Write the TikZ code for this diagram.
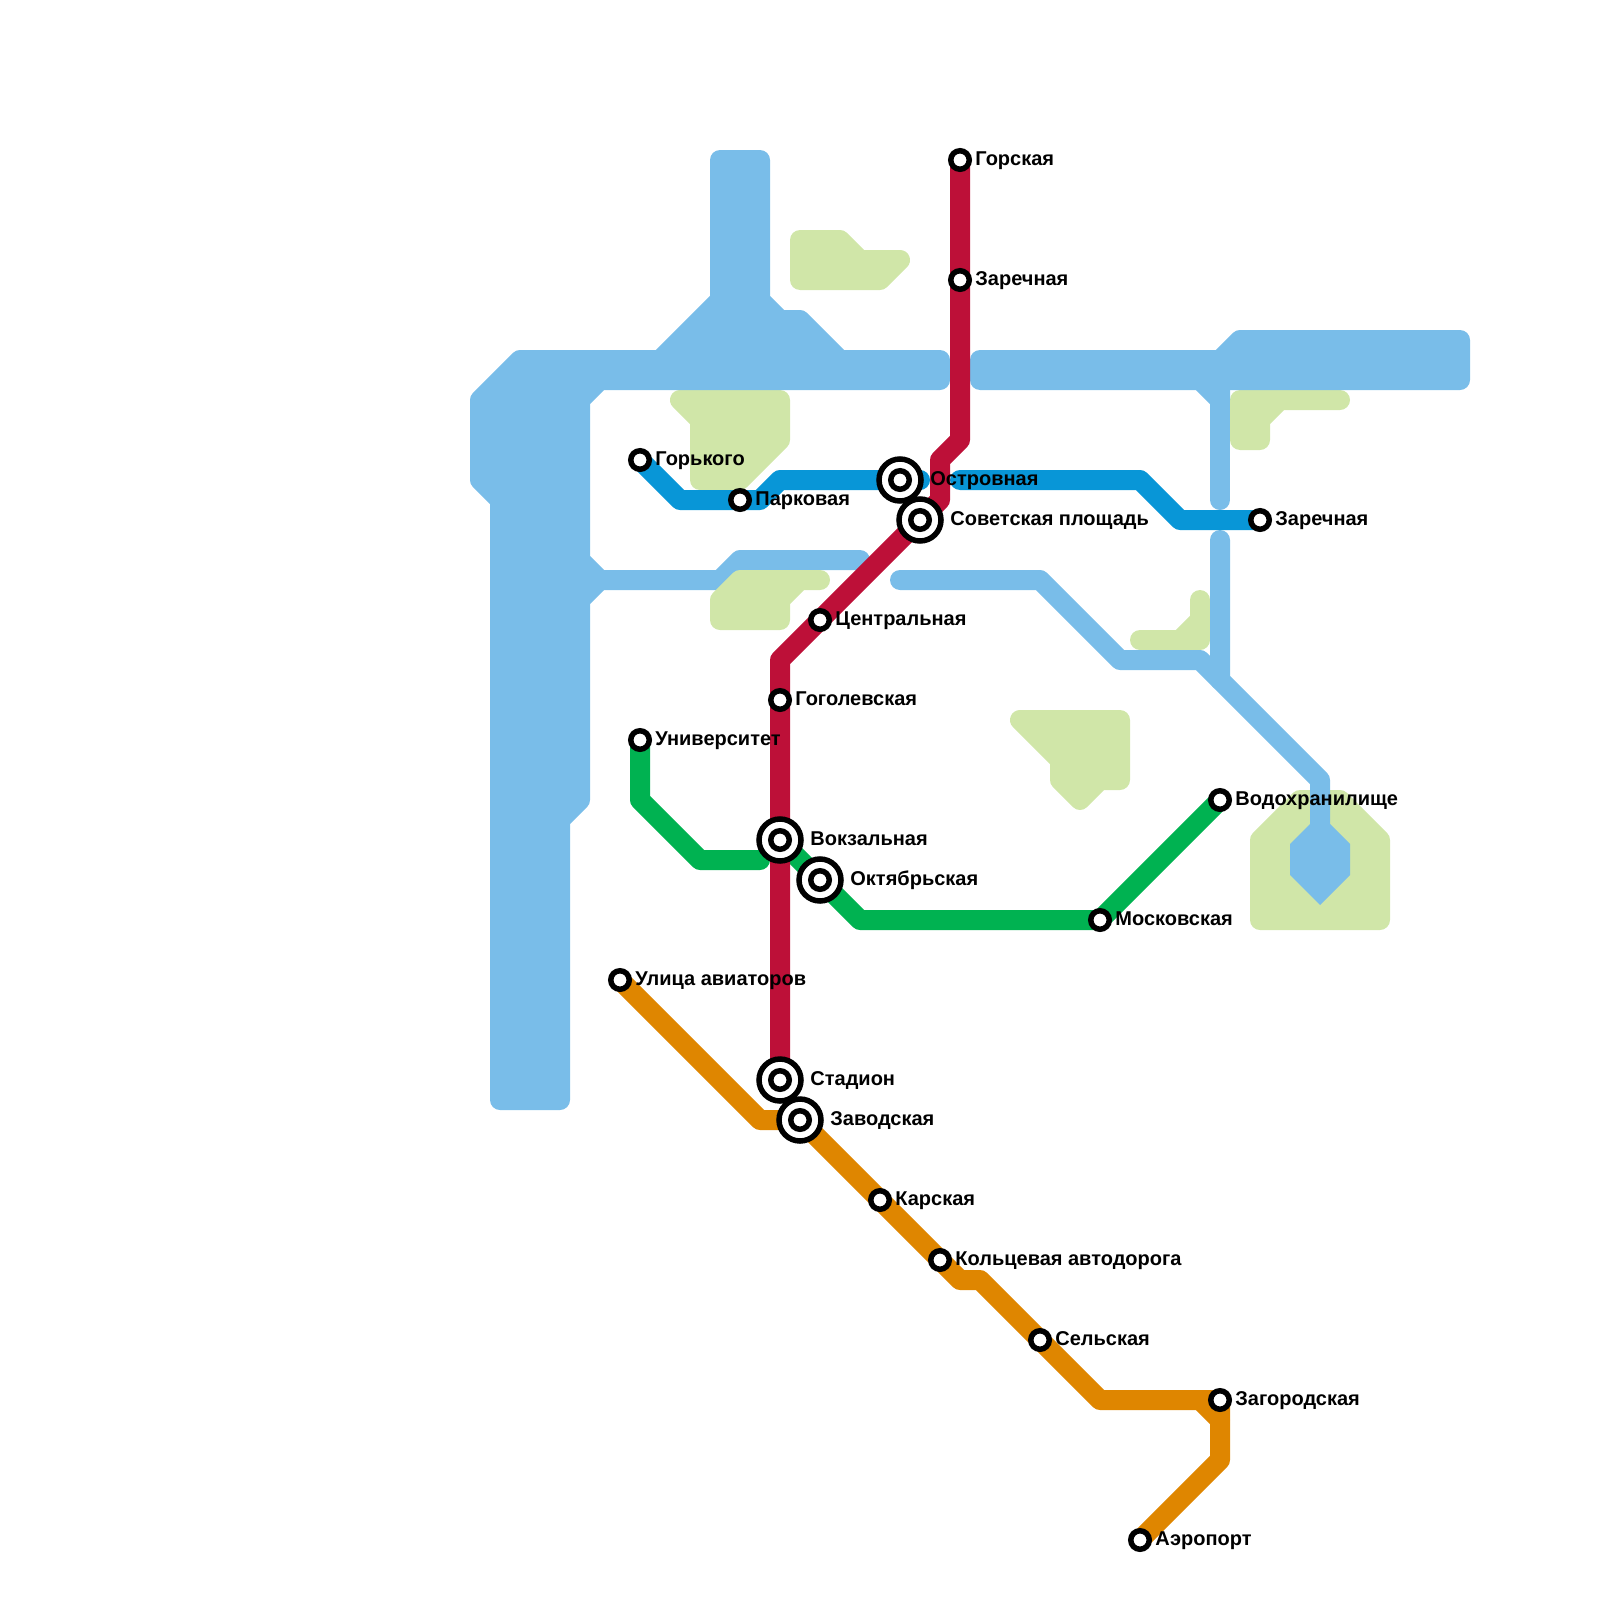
\documentclass[tikz,border=0pt]{standalone}
\usepackage{fontspec}
\setmainfont{Liberation Sans}
\definecolor{water}{HTML}{79BDE9}
\definecolor{park}{HTML}{D0E6A8}
\definecolor{lblue}{HTML}{0896D7}
\definecolor{lred}{HTML}{BD1038}
\definecolor{lgreen}{HTML}{00B251}
\definecolor{lorange}{HTML}{DF8600}
\pgfdeclarelayer{bg}
\pgfsetlayers{bg,main}
\tikzset{
  x=0.5pt,y=-0.5pt,
  waterarea/.style={fill=water,draw=water,line width=10pt,line join=round},
  parkarea/.style={fill=park,draw=park,line width=10pt,line join=round},
  waterline/.style={draw=water,line width=10pt,line join=round,line cap=round},
  metro/.style={line width=10pt,line join=round,line cap=round},
  stn/.style={circle,draw=black,fill=white,line width=2.75pt,minimum size=9.25pt,inner sep=0pt},
  icouter/.style={circle,draw=black,fill=white,line width=2.75pt,minimum size=21pt,inner sep=0pt},
  lab/.style={anchor=base west,inner sep=0pt,font=\fontsize{10pt}{12pt}\selectfont\bfseries,text=black},
}
\newcommand{\stnat}[4]{\node[stn] (#1) at (#2,#3) {};\node[lab] (#1-t) at (#2+15,#3+5) {#4};}
\newcommand{\icat}[4]{\node[icouter] (#1) at (#2,#3) {};\node[stn] (#1-i) at (#2,#3) {};\node[lab] (#1-t) at (#2+30,#3+5) {#4};}
\begin{document}
\begin{tikzpicture}
\useasboundingbox (0,0) rectangle (1600,1600);
% stations
\stnat{gorskaya}{960}{160}{Горская}
\stnat{zarechnaya}{960}{280}{Заречная}
\stnat{gorkogo}{640}{460}{Горького}
\stnat{parkovaya}{740}{500}{Парковая}
\node[icouter] (ostrovnaya) at (900,480) {};
\node[stn] (ostrovnaya-i) at (900,480) {};
\node[lab] (ostrovnaya-t) at (930,485) {Островная};
\icat{sovetskaya}{920}{520}{Советская площадь}
\stnat{zarechnaya2}{1260}{520}{Заречная}
\stnat{centralnaya}{820}{620}{Центральная}
\stnat{gogolevskaya}{780}{700}{Гоголевская}
\stnat{universitet}{640}{740}{Университет}
\icat{vokzalnaya}{780}{840}{Вокзальная}
\icat{oktyabrskaya}{820}{880}{Октябрьская}
\stnat{moskovskaya}{1100}{920}{Московская}
\stnat{vodohran}{1220}{800}{Водохранилище}
\stnat{aviatorov}{620}{980}{Улица авиаторов}
\icat{stadion}{780}{1080}{Стадион}
\icat{zavodskaya}{800}{1120}{Заводская}
\stnat{karskaya}{880}{1200}{Карская}
\stnat{koltsevaya}{940}{1260}{Кольцевая автодорога}
\stnat{selskaya}{1040}{1340}{Сельская}
\stnat{zagorodskaya}{1220}{1400}{Загородская}
\stnat{aeroport}{1140}{1540}{Аэропорт}
\begin{pgfonlayer}{bg}
% parks under water
\draw[parkarea] (800,240)--(840,240)--(860,260)--(900,260)--(880,280)--(800,280)--cycle;
\draw[parkarea] (680,400)--(780,400)--(780,440)--(740,480)--(700,480)--(700,420)--cycle;
\draw[parkarea] (1240,400)--(1340,400)--(1280,400)--(1260,420)--(1260,440)--(1240,440)--cycle;
\draw[parkarea] (1140,640)--(1180,640)--(1200,620)--(1200,600)--(1200,640)--cycle;
\draw[parkarea] (1020,720)--(1120,720)--(1120,780)--(1100,780)--(1080,800)--(1060,780)--(1060,760)--cycle;
\draw[parkarea] (1260,840)--(1300,800)--(1340,800)--(1380,840)--(1380,920)--(1260,920)--cycle;
% water
\draw[waterarea] (480,400)--(520,360)--(660,360)--(720,300)--(720,160)--(760,160)--(760,300)--(780,320)--(800,320)--(840,360)--(940,360)--(940,380)--(600,380)--(580,400)--(580,560)--(600,580)--(580,600)--(580,800)--(560,820)--(560,1100)--(500,1100)--(500,500)--(480,480)--cycle;
\draw[waterline] (600,580)--(720,580)--(740,560)--(860,560);
\draw[waterarea] (980,360)--(1220,360)--(1240,340)--(1460,340)--(1460,380)--(980,380)--cycle;
\draw[waterarea] (1200,380)--(1220,400)--(1220,380)--cycle;
\draw[waterline] (1220,380)--(1220,500);
\draw[waterline] (1220,540)--(1220,680)--(1320,780)--(1320,840);
\draw[waterline] (900,580)--(1040,580)--(1120,660)--(1200,660)--(1220,680);
\fill[water] (1310,824)--(1290,844)--(1290,875)--(1320,905)--(1350,875)--(1350,844)--(1330,824)--cycle;
\draw[parkarea] (720,600)--(740,580)--(820,580)--(800,580)--(780,600)--(780,620)--(720,620)--cycle;
% lines
\draw[metro,lblue] (gorkogo.center)--(680,500)--(parkovaya.center)--(760,500)--(780,480)--(ostrovnaya.center)--(920,480);
\draw[metro,lblue] (960,480)--(1140,480)--(1180,520)--(zarechnaya2.center);
\draw[metro,lgreen] (universitet.center)--(640,800)--(700,860)--(760,860);
\draw[metro,lgreen] (vokzalnaya.center)--(oktyabrskaya.center)--(860,920)--(moskovskaya.center)--(vodohran.center);
\draw[metro,lorange] (aviatorov.center)--(760,1120)--(zavodskaya.center)--(karskaya.center)--(koltsevaya.center)--(960,1280)--(980,1280)--(selskaya.center)--(1100,1400)--(zagorodskaya.center)--(1220,1460)--(aeroport.center);
\draw[metro,lorange] (1200,1400)--(1220,1420);
\draw[metro,lred] (gorskaya.center)--(zarechnaya.center)--(960,440)--(940,460)--(940,500)--(sovetskaya.center)--(centralnaya.center)--(780,660)--(gogolevskaya.center)--(vokzalnaya.center)--(stadion.center);
\end{pgfonlayer}
\end{tikzpicture}
\end{document}
